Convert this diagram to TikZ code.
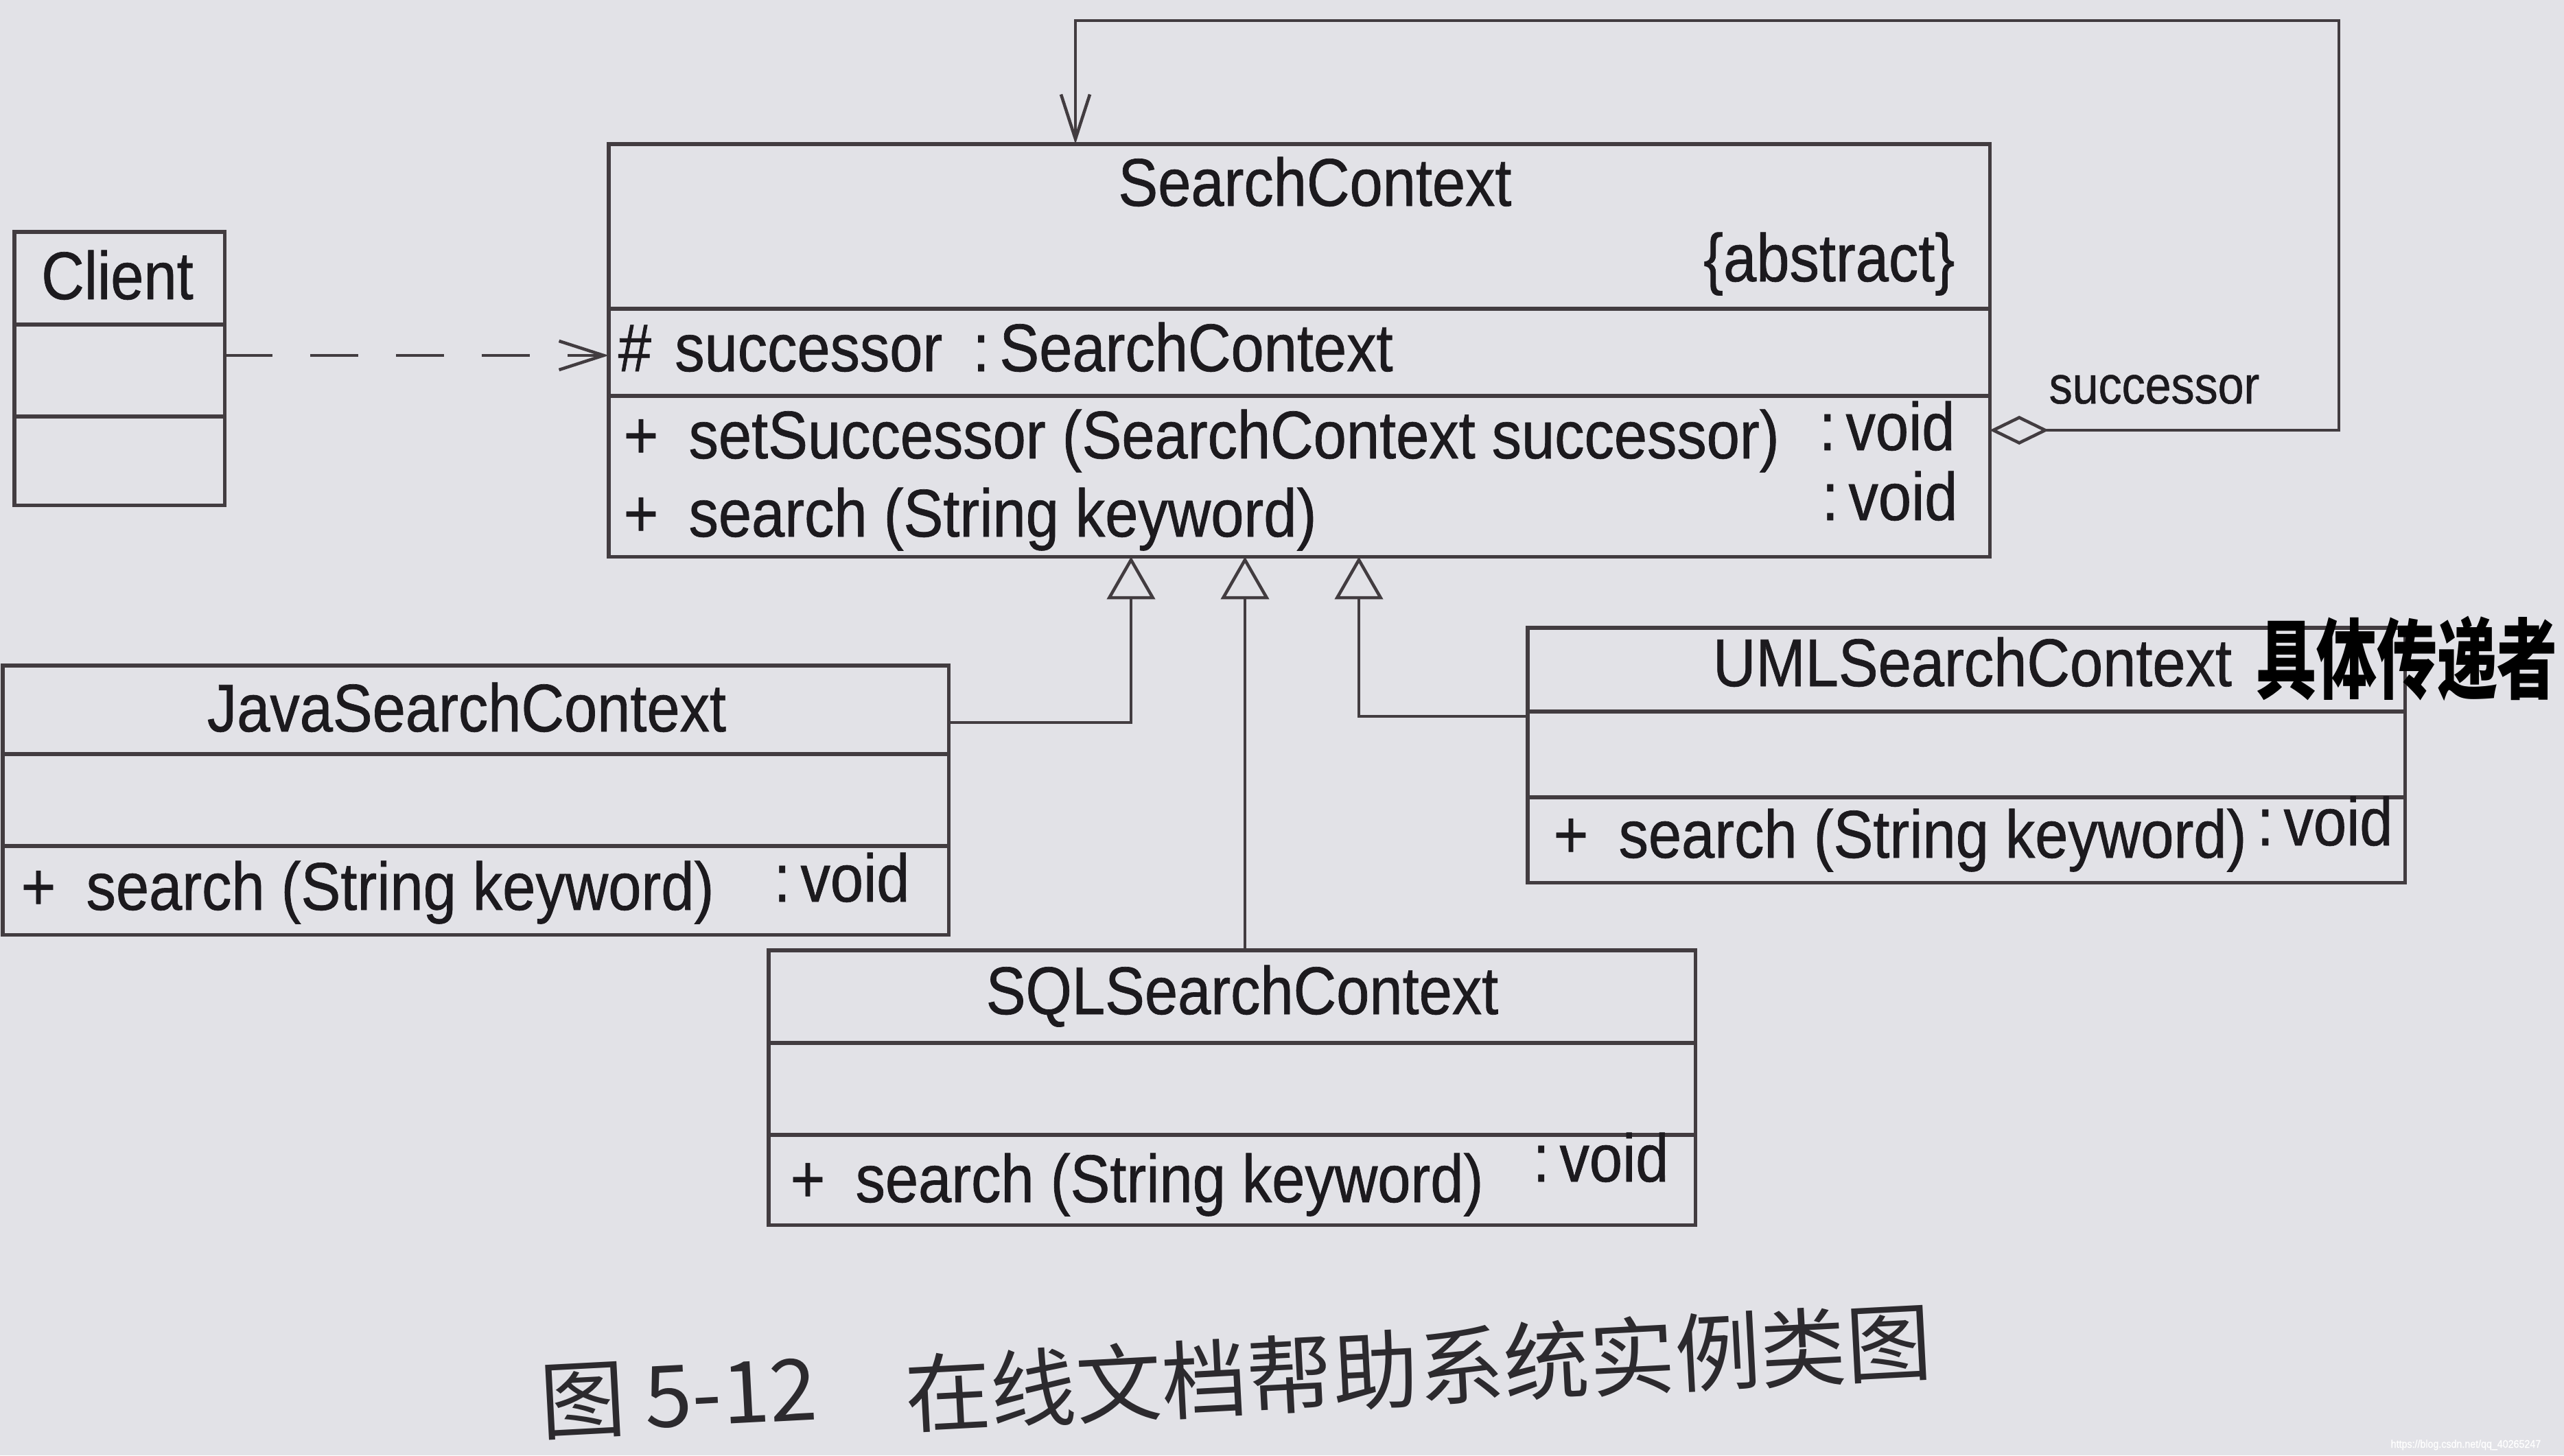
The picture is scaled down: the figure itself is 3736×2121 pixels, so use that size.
\documentclass[tikz,border=0pt]{standalone}
\usepackage{fontspec}
\setmainfont[FakeStretch=0.88,FakeBold=0.7]{Liberation Sans}
\newfontfamily\cjkfont{Noto Sans CJK SC}
\usetikzlibrary{arrows.meta}
\definecolor{paper}{RGB}{226,226,231}
\definecolor{ink}{RGB}{66,60,64}
\definecolor{txt}{RGB}{28,26,30}
\definecolor{captxt}{RGB}{44,42,46}
\begin{document}
\begin{tikzpicture}[x=0.01cm,y=-0.01cm,
  umlbox/.style={draw=ink, line width=1.5pt, rectangle, inner sep=0pt, outer sep=0pt, anchor=north west},
  sepline/.style={draw=ink, line width=1.5pt},
  conn/.style={draw=ink, line width=1.3pt},
  gen/.style={conn, -{Triangle[open, length=0.62cm, width=0.7cm]}},
  dep/.style={conn, dash pattern=on 0.7cm off 0.55cm, -{Straight Barb[length=0.65cm, width=0.42cm]}},
  assoc/.style={conn, {Diamond[open, length=0.86cm, width=0.42cm]}-{Straight Barb[length=0.65cm, width=0.42cm]}},
  lbl/.style={text=txt, inner sep=0pt, font=\fontsize{28}{33}\selectfont},
  smalllbl/.style={text=txt, inner sep=0pt, font=\fontsize{22}{26}\selectfont},
]
\path[fill=paper] (0,0) rectangle (3736,2121);
\useasboundingbox (0,0) rectangle (3736,2121);

% class boxes
\node[umlbox, minimum width=3.06cm, minimum height=3.98cm] (client) at (21,338) {};
\node[umlbox, minimum width=20.11cm, minimum height=6.01cm] (sc) at (887,210) {};
\node[umlbox, minimum width=13.78cm, minimum height=3.92cm] (java) at (4,970) {};
\node[umlbox, minimum width=13.50cm, minimum height=4.00cm] (sql) at (1120,1385) {};
\node[umlbox, minimum width=12.78cm, minimum height=3.71cm] (uml) at (2226,915) {};

% compartments
\draw[sepline] (client.west |- 0,473) -- (client.east |- 0,473);
\draw[sepline] (client.west |- 0,607) -- (client.east |- 0,607);
\draw[sepline] (sc.west |- 0,450) -- (sc.east |- 0,450);
\draw[sepline] (sc.west |- 0,577) -- (sc.east |- 0,577);
\draw[sepline] (java.west |- 0,1099) -- (java.east |- 0,1099);
\draw[sepline] (java.west |- 0,1233) -- (java.east |- 0,1233);
\draw[sepline] (sql.west |- 0,1520) -- (sql.east |- 0,1520);
\draw[sepline] (sql.west |- 0,1654) -- (sql.east |- 0,1654);
\draw[sepline] (uml.west |- 0,1037) -- (uml.east |- 0,1037);
\draw[sepline] (uml.west |- 0,1162) -- (uml.east |- 0,1162);

% texts
\node[lbl, anchor=base] (clientname) at (171,436) {Client};
\node[lbl, anchor=base] (scname) at (1916,300) {SearchContext};
\node[lbl, anchor=base east] (scabs) at (2849,410) {\{abstract\}};
\node[lbl, anchor=base west] (scattr) at (900,541) {\#\hspace{0.35em}successor\hspace{0.45em}:\hspace{0.15em}SearchContext};
\node[lbl, anchor=base west] (scop1) at (908,668) {+\hspace{0.45em}setSuccessor (SearchContext successor)};
\node[lbl, anchor=base west] (scop1t) at (2650,656) {:\hspace{0.15em}void};
\node[lbl, anchor=base west] (scop2) at (908,782) {+\hspace{0.45em}search (String keyword)};
\node[lbl, anchor=base west] (scop2t) at (2654,758) {:\hspace{0.15em}void};

\node[lbl, anchor=base] (javaname) at (680,1066) {JavaSearchContext};
\node[lbl, anchor=base west] (javaop) at (30,1326) {+\hspace{0.45em}search (String keyword)};
\node[lbl, anchor=base west] (javaopt) at (1127,1314) {:\hspace{0.15em}void};

\node[lbl, anchor=base] (sqlname) at (1810,1478) {SQLSearchContext};
\node[lbl, anchor=base west] (sqlop) at (1151,1752) {+\hspace{0.45em}search (String keyword)};
\node[lbl, anchor=base west] (sqlopt) at (2233,1722) {:\hspace{0.15em}void};

\node[lbl, anchor=base] (umlname) at (2874,1000) {UMLSearchContext};
\node[lbl, anchor=base west] (umlop) at (2263,1250) {+\hspace{0.45em}search (String keyword)};
\node[lbl, anchor=base west] (umlopt) at (3288,1232) {:\hspace{0.15em}void};

% connectors
\draw[dep] (client.east |- 0,518) -- (sc.west |- 0,518);
\draw[gen] (java.east |- 0,1053) -| (sc.south -| 1648,0);
\draw[gen] (sql.north -| 1814,0) -- (sc.south -| 1814,0);
\draw[gen] (uml.west |- 0,1044) -| (sc.south -| 1980,0);
\coordinate (loopcorner) at (3408,30);
\draw[assoc] (sc.east |- 0,627) -| (loopcorner) -| (sc.north -| 1567,0);
\node[smalllbl, anchor=base west] (succlabel) at (2985,588) {successor};

% handwriting
\node[text=black, inner sep=0pt, font=\cjkfont\bfseries\fontsize{25}{25}\selectfont] (hand) at (3507,960) {\scalebox{1}[1.45]{具体传递者}};

% caption
\node[text=captxt, inner sep=0pt, anchor=west, rotate=3, font=\cjkfont\fontsize{35.5}{40}\selectfont] (figno) at (786,2045) {图 5-12};
\node[text=captxt, inner sep=0pt, anchor=west, rotate=3, font=\cjkfont\fontsize{35.5}{40}\selectfont] (figtitle) at (1318,2032) {在线文档帮助系统实例类图};

% watermark
\node[text=white, inner sep=0pt, font=\fontsize{4.6}{5}\selectfont, anchor=base west] (wm) at (3483,2110) {https://blog.csdn.net/qq\_40265247};
\end{tikzpicture}
\end{document}
